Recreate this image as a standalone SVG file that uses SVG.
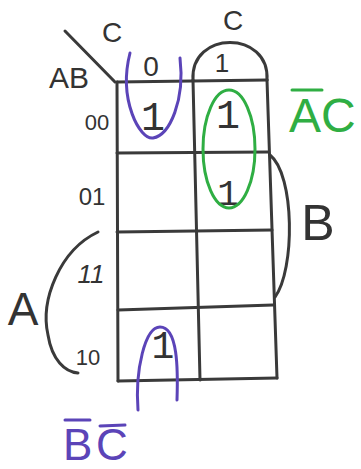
<svg xmlns="http://www.w3.org/2000/svg" width="361" height="469" viewBox="0 0 361 469">
<style>
.ln{fill:none;stroke:#3a3a3a;stroke-width:3;stroke-linecap:round;stroke-linejoin:round}
.pu{fill:none;stroke:#5b44b8;stroke-width:3;stroke-linecap:round}
.gr{fill:none;stroke:#2fae43;stroke-width:3;stroke-linecap:round}
.t{font-family:"Liberation Sans",Arial,sans-serif;fill:#333;text-anchor:middle}
.one{font-family:"Liberation Mono","Courier New",monospace;fill:#333;text-anchor:middle}
.tg{font-family:"Liberation Sans",Arial,sans-serif;fill:#2fae43}
.tp{font-family:"Liberation Sans",Arial,sans-serif;fill:#5b44b8}
</style>
<rect width="361" height="469" fill="#fff"/>
<g id="grid">
<path class="ln" d="M117,82 L267,80 M117,153 L268,152 M117,232 L272,230 M118,310 L273,305 M118,381 L277,378"/>
<path class="ln" d="M117,82 L118,381 M193,80 L200,380 M267,80 L277,378"/>
<path class="ln" d="M65,31 L115,82"/>
<path class="ln" d="M193,80 C190,30 270,30 267,80"/>
</g>
<g id="headers">
<text class="t" x="112" y="42" font-size="28">C</text>
<text class="t" x="233" y="30" font-size="28">C</text>
<text class="t" x="69" y="88" font-size="30">AB</text>
<text class="t" x="151" y="76" font-size="28">0</text>
<text class="t" x="222" y="72" font-size="26">1</text>
<text class="t" x="97" y="130" font-size="22">00</text>
<text class="t" x="92" y="205" font-size="24">01</text>
<text class="t" x="91" y="283" font-size="26" font-style="italic">11</text>
<text class="t" x="88" y="365" font-size="22">10</text>
</g>
<g id="cells">
<text class="one" x="153" y="130" font-size="40">1</text>
<text class="one" x="228" y="128" font-size="40">1</text>
<text class="one" x="228" y="205" font-size="36">1</text>
<text class="one" x="163" y="358" font-size="38">1</text>
</g>
<g id="brackets">
<path class="ln" d="M270,155 C295,175 295,270 275,297"/>
<text class="t" x="318" y="240" font-size="50">B</text>
<path class="ln" d="M98,232 C60,250 40,300 48,335 C52,360 65,372 78,373"/>
<text class="t" x="23" y="325" font-size="46">A</text>
</g>
<g id="groups">
<path class="pu" d="M130,53 C118,100 140,140 153,138 C170,135 185,100 180,58"/>
<path class="pu" d="M138,410 C135,370 145,327 160,327 C178,327 178,370 177,400"/>
<ellipse class="gr" cx="229" cy="149" rx="26" ry="59"/>
</g>
<g id="terms">
<text class="tg" x="289" y="132" font-size="48">AC</text>
<path class="gr" d="M292,90 L322,90"/>
<text class="tp" x="63" y="460" font-size="44">B</text>
<text class="tp" x="96" y="460" font-size="44">C</text>
<path class="pu" d="M65,420 L90,420 M100,426 L125,425"/>
</g>
</svg>
